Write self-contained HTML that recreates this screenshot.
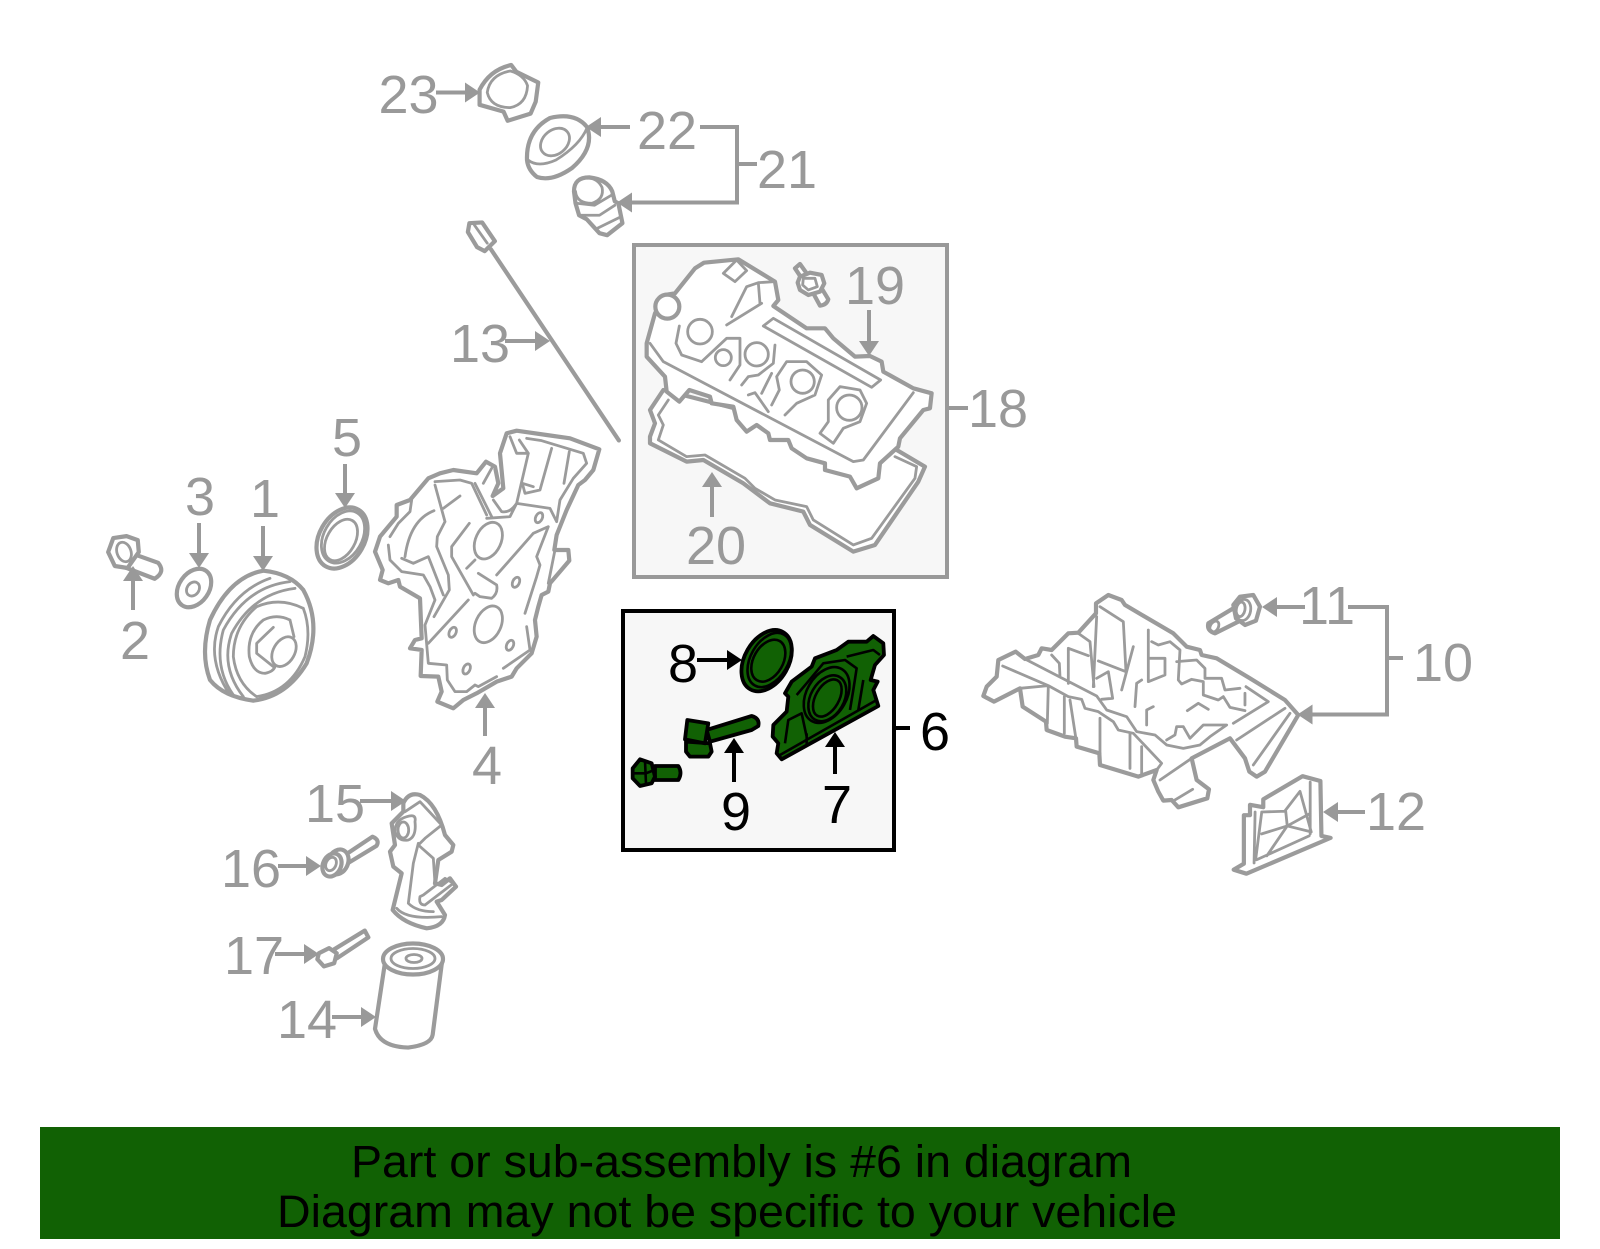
<!DOCTYPE html>
<html><head><meta charset="utf-8"><style>
html,body{margin:0;padding:0;background:#fff}
svg{display:block}
svg *{vector-effect:non-scaling-stroke}
.g path,.g ellipse,.g circle{stroke:#9b9b9b;stroke-linejoin:round;stroke-linecap:round}
.o{fill:#fff;stroke-width:4.2}
.i{fill:none;stroke-width:2.8}
.k path,.k ellipse{stroke:#000;fill:#116104;stroke-width:3.8;stroke-linejoin:round}
.k .n{fill:none;stroke-width:2.6}
.c{fill:none;stroke:#999;stroke-width:4}
.cb{fill:none;stroke:#000;stroke-width:4}
text{font-family:"Liberation Sans",sans-serif}
.l{font-size:54px;fill:#999;text-anchor:middle}
.lb{font-size:54px;fill:#000;text-anchor:middle}
</style></head><body>
<svg xmlns="http://www.w3.org/2000/svg" width="1600" height="1249" viewBox="0 0 1600 1249">
<defs>
<marker id="a" markerUnits="userSpaceOnUse" markerWidth="17" markerHeight="20" refX="7" refY="10" orient="auto" viewBox="0 0 17 20"><path d="M0,0 L15,10 L0,20Z" fill="#999"/></marker>
<marker id="b" markerUnits="userSpaceOnUse" markerWidth="17" markerHeight="20" refX="7" refY="10" orient="auto" viewBox="0 0 17 20"><path d="M0,0 L15,10 L0,20Z" fill="#000"/></marker>
</defs>
<rect width="1600" height="1249" fill="#fff"/>

<rect x="634" y="245" width="313" height="332" fill="#f7f7f7" stroke="#999" stroke-width="4"/>
<rect x="623" y="611" width="271" height="239" fill="#f7f7f7" stroke="#000" stroke-width="4"/>
<rect x="40" y="1127" width="1520" height="112" fill="#116104"/>

<g class="g">
<!-- upper left parts -->
<g transform="scale(.5102,.3986)">
<path class="o" d="M1002,163 L1012,180 L1055,207 L1050,255 L1040,285 L995,303 L987,280 L940,263 L940,225 Q960,175 1002,163Z"/>
<path class="i" d="M1000,178 Q960,188 955,232 Q962,270 1000,270 Q1032,262 1034,215 Q1027,188 1000,178Z"/>
<path class="o" d="M1125,480 Q1125,445 1155,445 Q1190,450 1200,480 L1205,505 L1212,510 L1220,560 L1190,590 L1175,585 L1150,550 L1135,540 L1128,510Z"/>
<path class="i" d="M1130,510 L1165,515 L1198,490 M1135,540 L1175,540 L1205,515 M1172,572 L1215,545 M1128,480 Q1130,510 1160,510 Q1185,500 1180,470 Q1170,445 1150,447"/>
<path class="o" d="M920,560 L945,558 L970,605 L950,630 L935,620 L917,582Z"/>
<path class="i" d="M930,565 L955,610"/>
<path class="o" d="M962,625 L1213,1105"/>
<path class="o" d="M240,1380 L310,1412 Q325,1435 303,1452 L238,1420Z"/>
<path class="o" d="M222,1350 L248,1345 L270,1355 L272,1385 L250,1425 L225,1420 L212,1385Z"/>
<path class="i" d="M1035,400 Q1050,425 1085,432"/>
</g>
<path class="o" d="M527,160 Q526,131 550,118 Q575,112 587,127 Q595,148 572,168 Q552,182 537,177 Q528,170 527,160Z"/>
<path class="i" d="M528,160 Q538,168 556,160 Q580,145 587,128"/>
<ellipse class="i" cx="555" cy="142" rx="16" ry="12" transform="rotate(-40 555 142)"/>
<ellipse class="i" cx="124" cy="552" rx="7" ry="10" transform="rotate(-20 124 552)"/>
<ellipse class="o" cx="194" cy="588" rx="21" ry="15" transform="rotate(-55 194 588)"/>
<ellipse class="i" cx="193" cy="589" rx="7.5" ry="6" transform="rotate(-55 193 589)"/>
<ellipse class="o" cx="342" cy="538" rx="32.7" ry="22.6" transform="rotate(-60 342 538)"/>
<ellipse class="i" cx="343" cy="537" rx="28" ry="19" transform="rotate(-60 343 537)"/>
<ellipse class="i" cx="341" cy="540" rx="22.5" ry="14" transform="rotate(-60 341 540)"/>

<!-- pulley -->
<g transform="translate(190,540) scale(.3333)">
<path class="o" d="M220,92 Q120,110 60,240 Q30,340 60,420 Q100,470 190,482 Q290,470 350,370 Q395,250 340,150 Q300,100 220,92Z"/>
<path class="i" d="M240,115 Q140,150 85,260 Q50,360 120,465 M300,125 Q170,140 100,270 Q70,380 130,465 M315,145 Q190,160 125,280 Q90,380 160,470 M340,205 Q270,170 200,200 Q130,260 130,350 Q140,430 200,470 Q300,455 345,350 Q365,270 340,205"/>
<path class="i" d="M300,240 Q260,220 220,240 Q170,280 178,350 Q190,400 225,400 Q250,395 255,380 M300,240 L312,290 M250,262 L200,310 L200,340 L250,380"/>
<ellipse class="i" cx="282" cy="335" rx="48" ry="32" transform="rotate(-60 282 335)"/>
</g>

<!-- timing cover -->
<g transform="translate(360,420) scale(.3333)">
<path class="o" d="M440,40 L470,32 L560,45 L630,55 L718,88 L700,150 L675,180 L655,195 L620,270 L590,345 L583,390 L625,390 L628,422 L570,490 L565,515 L545,525 L535,560 L525,600 L530,650 L515,700 L470,745 L455,770 L410,785 L350,820 L310,840 L280,865 L232,845 L245,815 L235,770 L182,768 L185,690 L150,685 L165,660 L185,655 L180,535 L120,500 L115,480 L85,490 L60,480 L68,450 L45,395 L60,350 L110,290 L110,255 L150,240 L205,175 L240,160 L280,150 L350,160 L378,125 L405,140 L415,190 L398,228 L430,205 L420,100Z"/>
<path class="i" d="M225,195 L255,305 M300,228 L250,265 M222,272 Q150,300 135,410 M85,375 L90,420 L125,455 L190,465 L210,500 L225,540 L195,615 L205,730 L260,735 L262,780 L285,815 L320,815 L345,795 L355,800 L410,770 M125,415 L160,430 L205,410 L250,525 M255,305 L232,350 L230,380 L265,465 L268,510 L222,590 M328,310 L275,380 L275,410 L340,525 M205,670 L325,540 M90,350 L115,310 L150,275 L155,240 M225,185 L300,180 L335,190 L380,285 M345,190 L395,290 M370,190 L395,145 M320,445 L345,420 M355,460 L410,495 Q415,520 395,535 L360,530 L345,520 M410,465 L520,340 L565,320 L530,410 L540,435 L530,470 L495,580 M450,50 L470,100 L505,100 L470,250 Q450,280 425,275 L400,240 M478,60 L505,100 M500,55 L545,62 L670,100 L680,130 L640,175 L600,240 L590,305 M575,85 L540,210 L495,220 L487,190 L520,200 M628,95 L612,190 M470,250 L570,265 L590,305 M380,295 L450,290 L470,250 M500,620 L510,690 L430,745 M585,390 L565,490"/>
<ellipse class="i" cx="385" cy="362" rx="38" ry="58" transform="rotate(25 385 362)"/>
<ellipse class="i" cx="385" cy="613" rx="38" ry="58" transform="rotate(25 385 613)"/>
<ellipse class="i" cx="537" cy="293" rx="10" ry="16" transform="rotate(25 537 293)"/>
<ellipse class="i" cx="468" cy="487" rx="10" ry="16" transform="rotate(25 468 487)"/>
<ellipse class="i" cx="278" cy="637" rx="10" ry="16" transform="rotate(25 278 637)"/>
<ellipse class="i" cx="320" cy="747" rx="10" ry="16" transform="rotate(25 320 747)"/>
<ellipse class="i" cx="450" cy="676" rx="10" ry="16" transform="rotate(25 450 676)"/>
</g>

<!-- valve cover -->
<g transform="translate(630,240) scale(.3333)">
<path class="o" d="M100,450 L60,510 L75,550 L60,590 L60,610 L170,665 L220,660 L340,730 L420,790 L520,815 L540,855 L670,935 L735,915 L865,725 L885,680 L800,630Z"/>
<path class="i" d="M115,480 L85,525 L100,555 L85,600 L170,650 L225,645 L345,715 L375,745 L435,780 L530,800 L550,840 L670,915 L725,895 L855,715 L860,680 L795,650"/>
<path class="o" d="M325,58 L222,68 L195,85 L135,160 L105,165 L75,220 L50,310 L50,350 L105,410 L110,455 L148,485 L178,450 L240,470 L245,490 L310,500 L320,540 L350,575 L380,555 L415,580 L420,600 L475,600 L485,625 L530,655 L585,670 L585,690 L660,710 L680,745 L745,715 L750,670 L805,620 L810,595 L880,510 L900,505 L905,460 L850,445 L760,395 L755,365 L720,348 L675,350 L610,295 L585,265 L530,265 L430,198 L445,180 L435,125Z"/>
<circle class="o" cx="112" cy="200" r="36"/>
<path class="i" d="M60,310 L100,365 L670,665 L700,660 L850,458 M400,258 L430,235 L752,420 L725,442Z M148,258 L138,310 L155,345 L215,365 M215,365 L290,295 L330,295 L330,375 L300,420 M290,255 L395,190 M305,230 L350,140 L385,128 L435,125 M385,128 L390,190 M280,100 L320,60 L350,92 L315,125Z M435,315 L430,370 L385,405 L355,410 L335,435 M425,400 L395,460 M355,465 L375,458 L415,515 M425,495 L448,450 L440,410 L470,365 L530,365 L575,405 L555,465 L500,490 L465,525 M570,580 L610,610 L640,565 L690,545 L710,490 L690,450 L630,440 L595,480 L595,545Z"/>
<circle class="i" cx="210" cy="275" r="37"/>
<circle class="i" cx="280" cy="353" r="24"/>
<circle class="i" cx="380" cy="343" r="35"/>
<circle class="i" cx="518" cy="425" r="35"/>
<circle class="i" cx="658" cy="503" r="38"/>
<path class="o" d="M550,160 L575,145 L595,178 Q590,195 570,197Z"/>
<path class="o" d="M495,85 L510,72 L530,100 L515,115Z"/>
<path class="o" d="M510,110 L540,98 L575,105 L583,130 L570,155 L535,165 L510,150 L503,128Z"/>
<path class="i" d="M520,115 L555,115 L562,140 L535,150 L518,135Z"/>
</g>

<!-- oil pan -->
<g transform="translate(970,590) scale(.3333)">
<path class="o" d="M415,15 L455,30 L465,45 L610,130 L650,170 L690,180 L695,195 L740,205 L840,265 L945,330 L985,375 L885,545 L860,560 L838,545 L825,505 L780,445 L665,505 L680,570 L717,598 L712,625 L625,652 L605,630 L580,632 L565,605 L550,570 L560,540 L505,560 L390,525 L388,490 L320,470 L318,445 L285,440 L230,420 L228,395 L158,350 L150,295 L72,335 L40,318 L50,290 L80,260 L85,210 L137,185 L165,207 L205,195 L215,175 L245,180 L295,130 L325,128 L378,70 L378,40Z"/>
<path class="i" d="M165,207 L380,318 L410,360 L470,380 L500,425 L555,435 L590,465 L640,475 L690,465 L720,440 L770,405 L700,405 L660,445 L640,410 L620,410 L615,435 L590,450 M98,228 L235,287 L295,320 L335,328 L345,355 L385,365 L430,395 L445,420 L490,430 L575,520 L560,540 M150,295 L235,287 L232,400 M283,320 L283,430 M300,330 L320,460 M390,385 L390,490 M480,430 L480,535 M515,470 L515,550 M295,280 L295,175 L355,197 M325,130 L360,155 L372,290 M380,80 L370,290 M390,50 L460,95 L468,245 L385,213 M490,170 L455,300 M380,265 L415,245 L428,325 L395,328 M245,195 L268,220 L270,260 M535,120 L535,275 L585,255 L585,205 L535,205 M545,155 L565,165 L600,155 L630,180 L625,270 L635,282 L665,268 L700,275 L700,315 L745,330 L760,320 L780,352 L825,362 M620,215 L680,210 L705,235 L705,265 L755,265 L765,300 L810,295 M828,290 L895,335 L790,400 M825,310 L825,345 M500,280 L495,350 M500,280 L515,270 M530,405 L530,360 L550,350 M652,362 L685,340 L715,358 M570,570 L665,505 M800,450 L945,355 M850,525 L960,370 M615,630 L668,598"/>
<path class="o" d="M715,100 L790,55 L815,90 L735,130 Q710,122 715,100Z"/>
<ellipse class="i" cx="733" cy="110" rx="12" ry="18" transform="rotate(30 733 110)"/>
<path class="o" d="M810,20 L850,15 L870,50 L858,92 L825,105 L798,85 L790,45Z"/>
<ellipse class="i" cx="820" cy="60" rx="22" ry="32" transform="rotate(10 820 60)"/>
<ellipse class="i" cx="812" cy="58" rx="13" ry="22" transform="rotate(10 812 58)"/>
</g>

<!-- baffle -->
<g transform="translate(800,625) scale(.5102,.3979)">
<path class="o" d="M985,380 L1020,392 L1022,530 L1040,535 L875,625 L850,615 L870,600 L870,478 L882,478 L882,452 L908,458 L908,438Z"/>
<path class="i" d="M1000,395 L1000,525 M892,470 L890,598 M895,590 L998,530 M905,470 L950,468 L980,418 L1002,520 L955,505 L915,580 M905,525 L955,505 L998,475 M952,468 L955,505 M905,470 L893,590"/>
</g>

<!-- lower left parts -->
<g transform="translate(370,780) scale(.3333)">
<path class="o" d="M100,70 Q115,35 150,45 Q200,70 225,165 L250,195 L245,215 L205,240 L195,310 L215,315 L240,295 L258,320 L215,360 L200,365 L225,405 Q220,440 170,445 Q100,430 68,390 L95,280 L70,260 L60,215 L75,195 L65,130 L100,95Z"/>
<path class="i" d="M105,95 L150,65 L215,135 L165,175 L145,195 L190,235 L195,310 M145,190 L130,250 L115,370 Q140,395 190,395 M80,385 Q110,420 215,410 M135,125 Q140,100 110,110 Q75,120 75,155 Q85,185 115,180 Q140,170 135,125Z M150,350 Q145,375 165,375 L250,310 L225,295 L160,345Z"/>
<ellipse class="i" cx="100" cy="150" rx="16" ry="24"/>
</g>
<g transform="translate(0,625) scale(.5102,.3979)">
<path class="o" d="M680,575 L730,532 Q745,540 738,555 L680,600Z"/>
<path class="o" d="M655,815 L715,768 L722,785 L660,838Z"/>
<path class="o" d="M625,825 L645,812 L660,825 L655,850 L635,858 L622,840Z"/>
<path class="o" d="M755,845 L735,1015 Q745,1060 800,1062 Q845,1055 848,1030 L866,850"/>
</g>
<ellipse class="o" cx="338" cy="862" rx="10" ry="13" transform="rotate(25 338 862)"/>
<ellipse class="o" cx="332" cy="865" rx="9" ry="12" transform="rotate(25 332 865)"/>
<ellipse class="i" cx="331" cy="864" rx="5" ry="7" transform="rotate(25 331 864)"/>
<ellipse class="o" cx="413" cy="959" rx="30" ry="15.5"/>
<ellipse class="i" cx="413" cy="958.5" rx="22" ry="10"/>
<ellipse class="i" cx="414" cy="958.5" rx="8" ry="4"/>
</g>

<!-- green parts -->
<g class="k" transform="translate(610,600) scale(.3333)">
<ellipse cx="470" cy="182" rx="99" ry="66" transform="rotate(-60 470 182)"/>
<ellipse class="n" cx="478" cy="180" rx="88" ry="56" transform="rotate(-60 478 180)"/>
<ellipse class="n" cx="475" cy="182" rx="68" ry="44" transform="rotate(-60 475 182)"/>
<path d="M790,108 L820,130 L822,165 L795,195 L782,240 L803,245 L790,270 L805,318 L515,478 L500,460 L505,430 L488,410 L490,375 L530,335 L535,290 L525,280 L545,245 L605,200 L615,175 L680,150 L715,125 L770,125Z"/>
<path class="n" d="M510,465 L800,300 M525,430 L535,360 L575,340 L590,410 M590,400 L590,440 M560,285 L590,250 L640,190 L705,180 L740,205 L730,270 L720,330 M710,170 L790,150 L810,165 M760,240 L745,330"/>
<ellipse class="n" cx="650" cy="285" rx="90" ry="60" transform="rotate(-60 650 285)"/>
<ellipse class="n" cx="652" cy="295" rx="74" ry="50" transform="rotate(-60 652 295)"/>
<ellipse class="n" cx="652" cy="294" rx="61" ry="35" transform="rotate(-60 652 294)"/>
<path d="M228,425 L300,430 L305,455 L295,470 L240,470 L228,455Z"/>
<path d="M290,390 L425,348 Q450,355 445,378 L425,390 L300,425Z"/>
<path d="M232,360 L295,370 L285,430 L225,418Z"/>
<path d="M135,498 L205,498 Q218,518 205,540 L135,540Z"/>
<path d="M90,478 L125,490 L135,530 L125,550 L90,558 L68,535 L68,505Z"/>
<path class="n" d="M105,482 L108,552 M70,520 L108,520 L133,510"/>
</g>

<!-- connectors -->
<path class="c" d="M436,92.5 H472" marker-end="url(#a)"/>
<path class="c" d="M630,127 H594" marker-end="url(#a)"/>
<path class="c" d="M700,127 H737 V202.5 H625" marker-end="url(#a)"/>
<path class="c" d="M737,164 H757"/>
<path class="c" d="M505,341 H542" marker-end="url(#a)"/>
<path class="c" d="M345,464 V500" marker-end="url(#a)"/>
<path class="c" d="M199,523 V560" marker-end="url(#a)"/>
<path class="c" d="M263,526 V563" marker-end="url(#a)"/>
<path class="c" d="M133,610 V574" marker-end="url(#a)"/>
<path class="c" d="M485,736 V701" marker-end="url(#a)"/>
<path class="c" d="M360,801 H398" marker-end="url(#a)"/>
<path class="c" d="M278,866 H313" marker-end="url(#a)"/>
<path class="c" d="M275,954 H311" marker-end="url(#a)"/>
<path class="c" d="M332,1017 H368" marker-end="url(#a)"/>
<path class="c" d="M869,310 V348" marker-end="url(#a)"/>
<path class="c" d="M712,517 V480" marker-end="url(#a)"/>
<path class="c" d="M947,408 H968"/>
<path class="c" d="M1305,607 H1270" marker-end="url(#a)"/>
<path class="c" d="M1348,607 H1387 V714.5 H1305.5" marker-end="url(#a)"/>
<path class="c" d="M1387,658 H1403"/>
<path class="c" d="M1365,812 H1331" marker-end="url(#a)"/>
<path class="cb" d="M697,660 H734" marker-end="url(#b)"/>
<path class="cb" d="M734,782 V746" marker-end="url(#b)"/>
<path class="cb" d="M835,774 V740" marker-end="url(#b)"/>
<path class="cb" d="M895,728 H910"/>

<!-- labels -->
<text class="l" x="408.5" y="113">23</text>
<text class="l" x="667" y="149">22</text>
<text class="l" x="787" y="188">21</text>
<text class="l" x="480" y="362">13</text>
<text class="l" x="347" y="456">5</text>
<text class="l" x="200" y="515">3</text>
<text class="l" x="265" y="517">1</text>
<text class="l" x="135" y="659">2</text>
<text class="l" x="487" y="784">4</text>
<text class="l" x="335" y="822">15</text>
<text class="l" x="251" y="887">16</text>
<text class="l" x="254" y="974">17</text>
<text class="l" x="307" y="1038">14</text>
<text class="l" x="875" y="304">19</text>
<text class="l" x="998" y="427">18</text>
<text class="l" x="716" y="564">20</text>
<text class="l" x="1327" y="624">11</text>
<text class="l" x="1443" y="681">10</text>
<text class="l" x="1396" y="830">12</text>
<text class="lb" x="683" y="682">8</text>
<text class="lb" x="736" y="830">9</text>
<text class="lb" x="837" y="823">7</text>
<text class="lb" x="935" y="750">6</text>

<text x="351" y="1177" font-size="45" fill="#000" textLength="781" lengthAdjust="spacingAndGlyphs">Part or sub-assembly is #6 in diagram</text>
<text x="277" y="1227" font-size="45" fill="#000" textLength="900" lengthAdjust="spacingAndGlyphs">Diagram may not be specific to your vehicle</text>
</svg>
</body></html>
